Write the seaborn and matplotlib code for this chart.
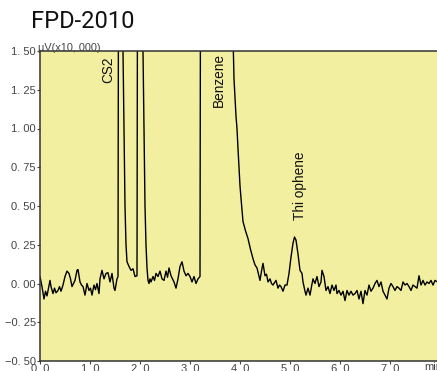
import numpy as np
import pandas as pd
import seaborn as sns
import matplotlib.pyplot as plt

# retention time (min) and detector signal (uV x 10,000)
time_min = [
    0.00, 0.04, 0.08, 0.11, 0.14, 0.17, 0.20, 0.22, 0.26, 0.29, 0.32, 0.36, 0.39,
    0.42, 0.46, 0.50, 0.54, 0.58, 0.61, 0.64, 0.70, 0.74, 0.76, 0.80, 0.83, 0.86,
    0.90, 0.94, 0.98, 1.01, 1.04, 1.08, 1.11, 1.14, 1.18, 1.20, 1.24, 1.28, 1.32,
    1.36, 1.40, 1.44, 1.48, 1.50, 1.54, 1.56,
    # CS2 (two off-scale peaks)
    1.57, 1.58, 1.65, 1.66, 1.68, 1.70, 1.72, 1.74, 1.78, 1.82, 1.86, 1.90, 1.94,
    1.95, 1.96, 2.05, 2.06, 2.08, 2.10, 2.12, 2.14, 2.16,
    2.18, 2.20, 2.22, 2.26, 2.29, 2.32, 2.36, 2.40, 2.44, 2.48, 2.52, 2.55, 2.58,
    2.62, 2.65, 2.68, 2.72, 2.76, 2.80, 2.84, 2.88, 2.92, 2.96, 3.00, 3.04, 3.08,
    3.12, 3.16, 3.20,
    # Benzene (off-scale)
    3.21, 3.22, 3.85, 3.86, 3.88, 3.92, 3.94, 3.96, 4.00, 4.02, 4.06, 4.11, 4.16,
    4.21, 4.26, 4.30, 4.34, 4.40, 4.43, 4.46, 4.50, 4.53, 4.56, 4.60, 4.63, 4.66,
    4.72, 4.76, 4.79, 4.82, 4.86, 4.90, 4.94,
    # Thiophene
    4.98, 5.02, 5.06, 5.09, 5.12, 5.16, 5.20, 5.24, 5.26, 5.30, 5.32, 5.36, 5.40,
    5.43, 5.46, 5.50, 5.54, 5.58, 5.62, 5.64, 5.68, 5.72, 5.76, 5.80, 5.84, 5.88,
    5.92, 5.94, 5.98, 6.02, 6.06, 6.10, 6.14, 6.18, 6.22, 6.26, 6.30, 6.34, 6.38,
    6.42, 6.46, 6.50, 6.54, 6.58, 6.62, 6.66, 6.70, 6.74, 6.78, 6.82, 6.86, 6.90,
    6.94, 6.98, 7.02, 7.06, 7.10, 7.14, 7.18, 7.22, 7.26, 7.30, 7.34, 7.38, 7.42,
    7.46, 7.50, 7.54, 7.58, 7.62, 7.66, 7.70, 7.74, 7.78, 7.82, 7.86, 7.90, 7.95,
]
signal = [
    0.045, -0.02, -0.10, -0.05, -0.08, -0.03, 0.02, -0.02, -0.065, -0.03, -0.06, -0.045, -0.02,
    -0.05, -0.01, 0.045, 0.08, 0.065, 0.03, -0.02, 0.02, 0.085, 0.09, 0.01, -0.01, -0.02,
    -0.075, 0.00, -0.045, -0.03, -0.075, -0.01, -0.04, 0.00, -0.065, 0.03, 0.085, 0.03, 0.065,
    0.07, 0.01, 0.065, -0.03, -0.045, 0.03, 0.045,
    2.00, 3.00, 3.00, 1.50, 1.00, 0.50, 0.25, 0.14, 0.11, 0.085, 0.095, 0.045, 0.05,
    2.00, 3.00, 3.00, 1.50, 1.00, 0.50, 0.25, 0.10, 0.02,
    0.00, 0.03, 0.01, 0.045, 0.02, 0.065, 0.045, 0.08, 0.03, 0.02, 0.08, 0.04, 0.10,
    0.05, 0.03, 0.01, -0.03, 0.03, 0.11, 0.14, 0.08, 0.05, 0.065, 0.045, 0.01, 0.045,
    0.00, 0.03, 0.045,
    2.00, 3.00, 3.00, 1.60, 1.32, 1.08, 1.00, 0.87, 0.63, 0.55, 0.40, 0.34, 0.29,
    0.22, 0.16, 0.12, 0.10, 0.02, 0.08, 0.13, 0.05, 0.06, 0.01, 0.03, 0.00, -0.01,
    0.02, -0.03, -0.01, -0.02, -0.05, -0.01, -0.01,
    0.065, 0.17, 0.26, 0.30, 0.28, 0.19, 0.085, 0.065, 0.01, -0.05, -0.075, -0.03, -0.075,
    -0.02, 0.03, 0.00, 0.045, -0.02, 0.01, 0.085, 0.045, -0.045, -0.02, -0.065, -0.01, -0.045,
    -0.01, -0.065, -0.045, -0.075, -0.05, -0.11, -0.045, -0.075, -0.05, -0.075, -0.065, -0.045, -0.10,
    -0.05, -0.13, -0.045, -0.075, -0.01, -0.05, -0.03, 0.00, 0.02, -0.02, 0.01, -0.05, -0.075,
    -0.10, -0.03, 0.00, -0.02, -0.045, -0.02, -0.03, -0.045, 0.01, -0.01, 0.00, -0.02, -0.045,
    -0.01, -0.02, -0.03, 0.05, -0.01, 0.02, -0.01, 0.01, 0.00, 0.02, -0.01, 0.02, 0.01,
]

peak_names = ["CS2", "Benzene", "Thi ophene"]
peak_times = [1.36, 3.58, 5.20]
peak_heights = [1.38, 1.31, 0.63]

y_ticks = [-0.50, -0.25, 0.00, 0.25, 0.50, 0.75, 1.00, 1.25, 1.50]
x_ticks = [0, 1, 2, 3, 4, 5, 6, 7]

df = pd.DataFrame({"t": time_min, "v": signal})

sns.set_style("ticks")
plt.rcParams["font.family"] = ["Liberation Sans", "DejaVu Sans"]

fig = plt.figure(figsize=(4.37, 3.71), dpi=100, facecolor="white")
ax = fig.add_axes([40 / 437, 10 / 371, 397 / 437, 310 / 371])
ax.set_facecolor("#f3efa1")

sns.lineplot(data=df, x="t", y="v", ax=ax, color="black", linewidth=1.0,
             sort=False, estimator=None)

ax.set_xlim(0, 7.94)
ax.set_ylim(-0.5, 1.5)
ax.set_yticks(y_ticks)
ax.set_yticklabels(["{:.2f}".format(v).replace(".", ". ").replace("-", "\u2212") for v in y_ticks])
ax.set_xticks(x_ticks)
ax.set_xticklabels(["{}. 0".format(v) for v in x_ticks])
ax.tick_params(axis="both", direction="out", length=2, width=0.8, colors="#444444",
               labelsize=8, pad=1)
ax.tick_params(axis="x", pad=0.5)
ax.set_xlabel("")
ax.set_ylabel("")

for side in ["left", "top", "bottom"]:
    ax.spines[side].set_color("#333333")
    ax.spines[side].set_linewidth(1.1)
ax.spines["right"].set_visible(False)

for name, t, h in zip(peak_names, peak_times, peak_heights):
    ax.text(t, h, name, rotation=90, ha="center", va="center", fontsize=9.8, color="#111111")

fig.text(38 / 437, 1 - 51 / 371, "\u03bcV(x10, 000)", fontsize=7.8, color="#444444",
         va="baseline", ha="left")
fig.text(424 / 437, 1 - 362 / 371, "min", fontsize=8, color="#444444", va="top", ha="left")

fig.text(31 / 437, 1 - 28 / 371, "FPD-2010", fontsize=17, color="#111111",
         family="Roboto", va="baseline", ha="left")

fig.savefig("out.png", dpi=100, facecolor="white")
